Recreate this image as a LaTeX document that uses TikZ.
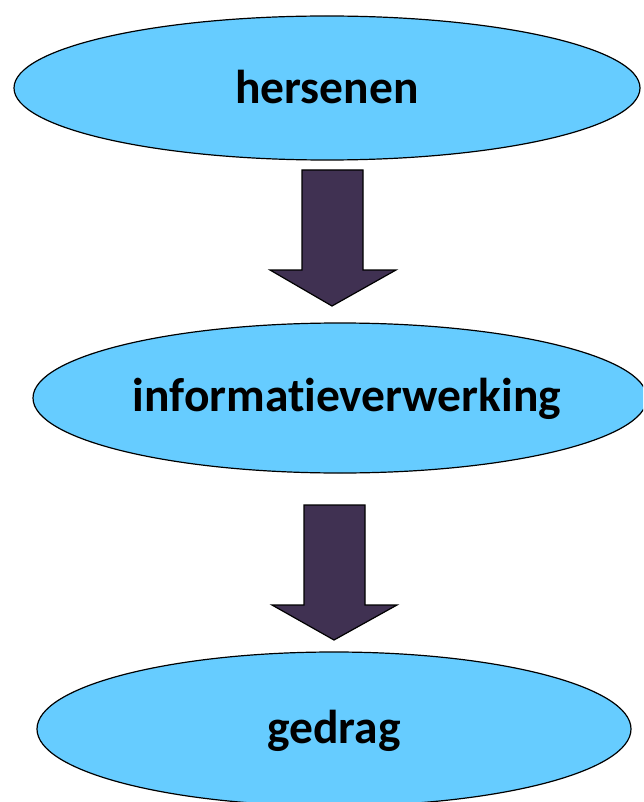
\documentclass[tikz,border=0pt]{standalone}
\usepackage{fontspec}
\setmainfont[Ligatures=NoCommon]{Carlito}
\definecolor{ellfill}{HTML}{66CCFF}
\definecolor{arrfill}{HTML}{403152}
\begin{document}
\begin{tikzpicture}[x=1pt,y=-1pt,
  ell/.style={draw=black,line width=1.2pt,fill=ellfill},
  lbl/.style={font=\fontsize{47.5}{52}\selectfont\bfseries,text=black},
  blockarrow/.style={draw=black,line width=1.2pt,fill=arrfill}]
\useasboundingbox (0,0) rectangle (643,802);
\clip (0,0) rectangle (643,802);
% ellipses
\draw[ell] (327,88) ellipse [x radius=313, y radius=72];
\node[lbl] (a) at (327,87) {hersenen};
\draw[ell] (340,398) ellipse [x radius=307, y radius=75];
\node[lbl] (b) at (347,399) {informatieverwerking};
\draw[ell] (334,729) ellipse [x radius=297, y radius=77];
\node[lbl] (c) at (334,731) {gedrag};
% block arrows
\draw[blockarrow] (302,170) -- (363,170) -- (363,270) -- (396,270) -- (332,306) -- (270,270) -- (302,270) -- cycle;
\draw[blockarrow] (304,505) -- (365,505) -- (365,605) -- (397,605) -- (334,640) -- (272,605) -- (304,605) -- cycle;
\end{tikzpicture}
\end{document}
